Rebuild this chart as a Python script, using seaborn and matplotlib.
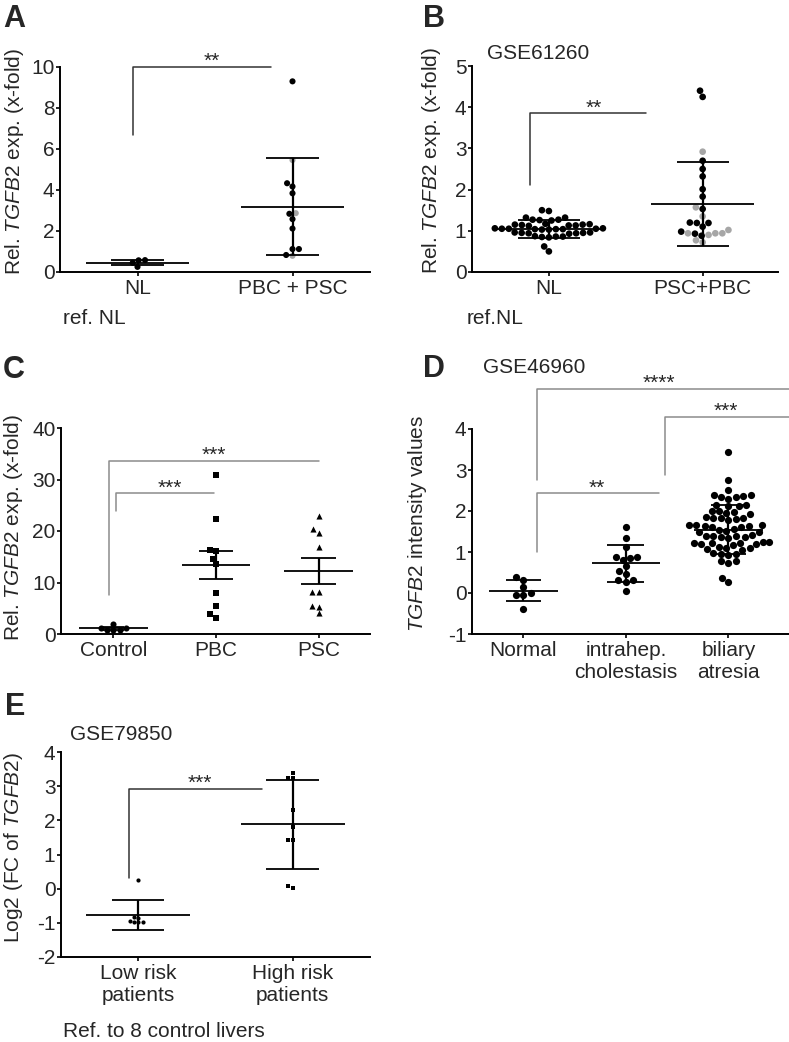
import numpy as np
import pandas as pd
import matplotlib
matplotlib.use("Agg")
import matplotlib.pyplot as plt
import seaborn as sns

# --- Panel A: qPCR, NL vs PBC + PSC ---
A_GROUPS = ['NL', 'PBC + PSC']
A_NL = [0.57, 0.25, 0.45, 0.58]
A_DIS = [9.30, 5.46, 4.17, 4.33, 3.84, 2.87, 2.84, 2.58, 2.12, 1.12, 1.12, 0.79, 0.83]
A_DIS_SHADE = ['k', 'g', 'k', 'k', 'k', 'g', 'k', 'k', 'k', 'k', 'k', 'g', 'k']
A_MEAN = [0.46, 3.18]
A_ERR = [0.14, 2.36]

# --- Panel B: GSE61260 ---
B_GROUPS = ['NL', 'PSC+PBC']
B_NL = [1.48, 1.50, 1.32, 1.32, 1.27, 1.25, 1.27, 1.26,
        1.15, 1.17, 1.13, 1.15, 1.12, 1.16, 1.14, 1.13,
        1.05, 1.04, 1.06, 1.05, 1.03, 1.04, 1.05, 1.06, 1.04, 1.03,
        0.96, 0.95, 0.94, 0.96, 0.95, 0.93, 0.94,
        0.86, 0.85, 0.87, 0.84, 0.86, 0.62, 0.50]
B_DIS = [4.40, 4.25, 2.70, 2.50, 2.32, 2.01, 1.83, 1.53, 1.19, 1.10, 1.20, 1.19, 0.93, 0.98, 0.88,
         2.92, 1.57, 1.35, 0.94, 0.94, 0.94, 1.02, 0.90, 0.72, 0.77]
B_DIS_SHADE = ['k'] * 15 + ['g'] * 10
B_MEAN = [1.04, 1.65]
B_ERR = [0.21, 1.02]

# --- Panel C: qPCR, Control / PBC / PSC (mean +- SEM) ---
C_GROUPS = ['Control', 'PBC', 'PSC']
C_CONTROL = [1.95, 1.15, 0.70, 0.72, 0.78, 1.10]
C_PBC = [30.9, 22.4, 16.1, 16.3, 14.5, 13.5, 7.9, 5.5, 3.8, 3.2]
C_PSC = [23.0, 20.4, 19.7, 16.8, 8.1, 8.1, 5.5, 5.3, 4.1]
C_MEAN = [1.07, 13.4, 12.3]
C_ERR = [0.2, 2.8, 2.5]

# --- Panel D: GSE46960 ---
D_GROUPS = ['Normal', 'intrahep.\ncholestasis', 'biliary\natresia']
D_NORMAL = [0.14, 0.32, 0.39, -0.04, -0.04, 0.01, -0.38]
D_INTRA = [1.62, 1.35, 1.13, 0.89, 0.85, 0.81, 0.87, 0.54, 0.65, 0.47, 0.32, 0.28, 0.32, 0.06]
D_BA = [3.43, 2.76, 2.52,
        2.40, 2.37, 2.35, 2.33, 2.38, 2.30,
        2.15, 2.12, 2.14, 2.11,
        1.99, 1.97, 1.95, 2.00, 1.93,
        1.84, 1.82, 1.80, 1.85, 1.78, 1.83,
        1.66, 1.63, 1.65, 1.62, 1.64, 1.60, 1.67,
        1.53, 1.50, 1.52, 1.49, 1.55,
        1.40, 1.38, 1.36, 1.42, 1.39, 1.35, 1.37,
        1.25, 1.22, 1.20, 1.24, 1.18, 1.21, 1.23, 1.19,
        1.10, 1.08, 1.06, 1.12, 1.09,
        0.98, 0.95, 0.96, 0.93,
        0.77, 0.74, 0.78,
        0.36, 0.27]
D_MEAN = [0.06, 0.73, 1.54]
D_ERR = [0.25, 0.45, 0.60]

# --- Panel E: GSE79850 ---
E_GROUPS = ['Low risk\npatients', 'High risk\npatients']
E_LOW = [0.26, -0.86, -0.99, -0.99, -0.99, -0.96, -0.83]
E_HIGH = [3.40, 3.23, 3.23, 2.31, 1.80, 1.43, 1.41, 0.03, 0.08]
E_MEAN = [-0.77, 1.88]
E_ERR = [0.45, 1.29]

GREY = '#a6a6a6'
BRACKET_GREY = '#8c8c8c'
W, H = 789, 1042
FS = 15

sns.set_style('ticks')
plt.rcParams['font.family'] = ['Liberation Sans', 'DejaVu Sans']
plt.rcParams['mathtext.fontset'] = 'custom'
plt.rcParams['mathtext.rm'] = 'Liberation Sans'
plt.rcParams['mathtext.it'] = 'Liberation Sans:italic'
plt.rcParams['axes.unicode_minus'] = False

fig = plt.figure(figsize=(W / 100, H / 100), dpi=100)


def px_axes(left, top, right, bottom):
    return fig.add_axes([left / W, 1 - bottom / H, (right - left) / W, (bottom - top) / H])


def fig_text(x, y, s, **kw):
    fig.text(x / W, 1 - y / H, s, va='baseline', ha='left', **kw)


def style_axes(ax, ylim, yticks, xlim, ylabel, label_x, label_y):
    ax.set_ylim(*ylim)
    ax.set_xlim(*xlim)
    ax.set_yticks(yticks)
    ax.set_xlabel('')
    ax.set_ylabel(ylabel, fontsize=FS)
    ax.yaxis.set_label_coords(label_x, label_y)
    for s in ['top', 'right']:
        ax.spines[s].set_visible(False)
    for s in ['left', 'bottom']:
        ax.spines[s].set_linewidth(1.4)
        ax.spines[s].set_color('black')
    ax.tick_params(axis='both', labelsize=FS, length=3, width=1.2, color='black')
    ax.tick_params(axis='y', pad=1)
    ax.tick_params(axis='x', pad=2)


def summary(ax, means, errs, caps, half=0.335, lw=1.3):
    for i, (m, e) in enumerate(zip(means, errs)):
        ax.hlines(m, i - half, i + half, color='black', lw=lw, zorder=4)
        ax.vlines(i, m - e, m + e, color='black', lw=lw + 0.3, zorder=4)
        ax.hlines([m - e, m + e], i - caps[i], i + caps[i], color='black', lw=lw, zorder=4)


def bracket(ax, x0, y0, x1, ytop, stars, tx, color):
    ax.plot([x0, x0, x1], [y0, ytop, ytop], color=color, lw=1.1, clip_on=False, zorder=4)
    ax.text(tx, ytop, stars, ha='center', va='baseline', fontsize=FS, clip_on=False)


PAL = {'k': 'black', 'g': GREY}

# ---------------- A ----------------
axA = px_axes(60, 67, 370, 272)
dfA = pd.DataFrame({'group': ['NL'] * len(A_NL) + ['PBC + PSC'] * len(A_DIS),
                    'val': A_NL + A_DIS,
                    'shade': ['k'] * len(A_NL) + A_DIS_SHADE})
sns.swarmplot(data=dfA, x='group', y='val', hue='shade', palette=PAL, order=A_GROUPS,
              hue_order=['k', 'g'], size=4.4, legend=False, ax=axA)
summary(axA, A_MEAN, A_ERR, caps=[0.17, 0.17])
style_axes(axA, (0, 10), [0, 2, 4, 6, 8, 10], (-0.5, 1.5),
           r'Rel. $\mathit{TGFB2}$ exp. (x-fold)', -0.11, 0.54)
bracket(axA, -0.03, 6.68, 0.86, 10.0, '**', 0.48, '#333333')

# ---------------- B ----------------
axB = px_axes(472, 66, 778, 272)
dfB = pd.DataFrame({'group': ['NL'] * len(B_NL) + ['PSC+PBC'] * len(B_DIS),
                    'val': B_NL + B_DIS,
                    'shade': ['k'] * len(B_NL) + B_DIS_SHADE})
sns.swarmplot(data=dfB, x='group', y='val', hue='shade', palette=PAL, order=B_GROUPS,
              hue_order=['k', 'g'], size=4.8, legend=False, ax=axB)
summary(axB, B_MEAN, B_ERR, caps=[0.2, 0.17])
style_axes(axB, (0, 5), [0, 1, 2, 3, 4, 5], (-0.5, 1.49),
           r'Rel. $\mathit{TGFB2}$ exp. (x-fold)', -0.095, 0.54)
bracket(axB, -0.12, 2.1, 0.63, 3.85, '**', 0.29, '#333333')

# ---------------- C ----------------
axC = px_axes(61, 428, 370, 634)
for vals, grp, mk in [(C_CONTROL, 'Control', 'o'), (C_PBC, 'PBC', 's'), (C_PSC, 'PSC', '^')]:
    d = pd.DataFrame({'group': [grp] * len(vals), 'val': vals})
    sns.swarmplot(data=d, x='group', y='val', order=C_GROUPS, color='black',
                  marker=mk, size=4.4, ax=axC)
summary(axC, C_MEAN, C_ERR, caps=[0.1, 0.165, 0.17])
style_axes(axC, (0, 40), [0, 10, 20, 30, 40], (-0.51, 2.5),
           r'Rel. $\mathit{TGFB2}$ exp. (x-fold)', -0.117, 0.517)
bracket(axC, -0.04, 7.6, 2.0, 33.6, '***', 0.98, BRACKET_GREY)
bracket(axC, 0.03, 23.8, 0.98, 27.3, '***', 0.55, BRACKET_GREY)

# ---------------- D ----------------
axD = px_axes(472, 429, 790, 634)
dfD = pd.DataFrame({'group': [D_GROUPS[0]] * len(D_NORMAL) + [D_GROUPS[1]] * len(D_INTRA)
                    + [D_GROUPS[2]] * len(D_BA),
                    'val': D_NORMAL + D_INTRA + D_BA})
sns.swarmplot(data=dfD, x='group', y='val', order=D_GROUPS, color='black', size=5.2, ax=axD)
summary(axD, D_MEAN, D_ERR, caps=[0.17, 0.18, 0.17])
style_axes(axD, (-1, 4), [-1, 0, 1, 2, 3, 4], (-0.5, 2.6),
           r'$\mathit{TGFB2}$ intensity values', -0.135, 0.54)
bracket(axD, 0.13, 2.76, 3.2, 4.97, '****', 1.32, BRACKET_GREY)
bracket(axD, 1.38, 2.88, 3.2, 4.29, '***', 1.97, BRACKET_GREY)
bracket(axD, 0.13, 1.01, 1.32, 2.43, '**', 0.72, BRACKET_GREY)

# ---------------- E ----------------
axE = px_axes(61, 752, 370, 957)
for vals, grp, mk, sz in [(E_LOW, E_GROUPS[0], 'o', 3.0), (E_HIGH, E_GROUPS[1], 's', 3.4)]:
    d = pd.DataFrame({'group': [grp] * len(vals), 'val': vals})
    sns.swarmplot(data=d, x='group', y='val', order=E_GROUPS, color='black',
                  marker=mk, size=sz, ax=axE)
summary(axE, E_MEAN, E_ERR, caps=[0.167, 0.17])
style_axes(axE, (-2, 4), [-2, -1, 0, 1, 2, 3, 4], (-0.5, 1.5),
           r'Log2 (FC of $\mathit{TGFB2}$)', -0.117, 0.534)
bracket(axE, -0.06, 0.30, 0.80, 2.93, '***', 0.40, '#333333')

# ---------------- texts ----------------
for letter, x, y in [('A', 3, 27), ('B', 423, 27), ('C', 3, 378), ('D', 423, 377), ('E', 5, 715)]:
    fig_text(x, y, letter, fontsize=22, fontweight='bold')
fig_text(487, 59, 'GSE61260', fontsize=FS)
fig_text(483, 373, 'GSE46960', fontsize=FS)
fig_text(70, 740, 'GSE79850', fontsize=FS)
fig_text(63, 324, 'ref. NL', fontsize=FS)
fig_text(467, 324, 'ref.NL', fontsize=FS)
fig_text(63, 1037, 'Ref. to 8 control livers', fontsize=FS)

fig.savefig('out.png', dpi=100)
